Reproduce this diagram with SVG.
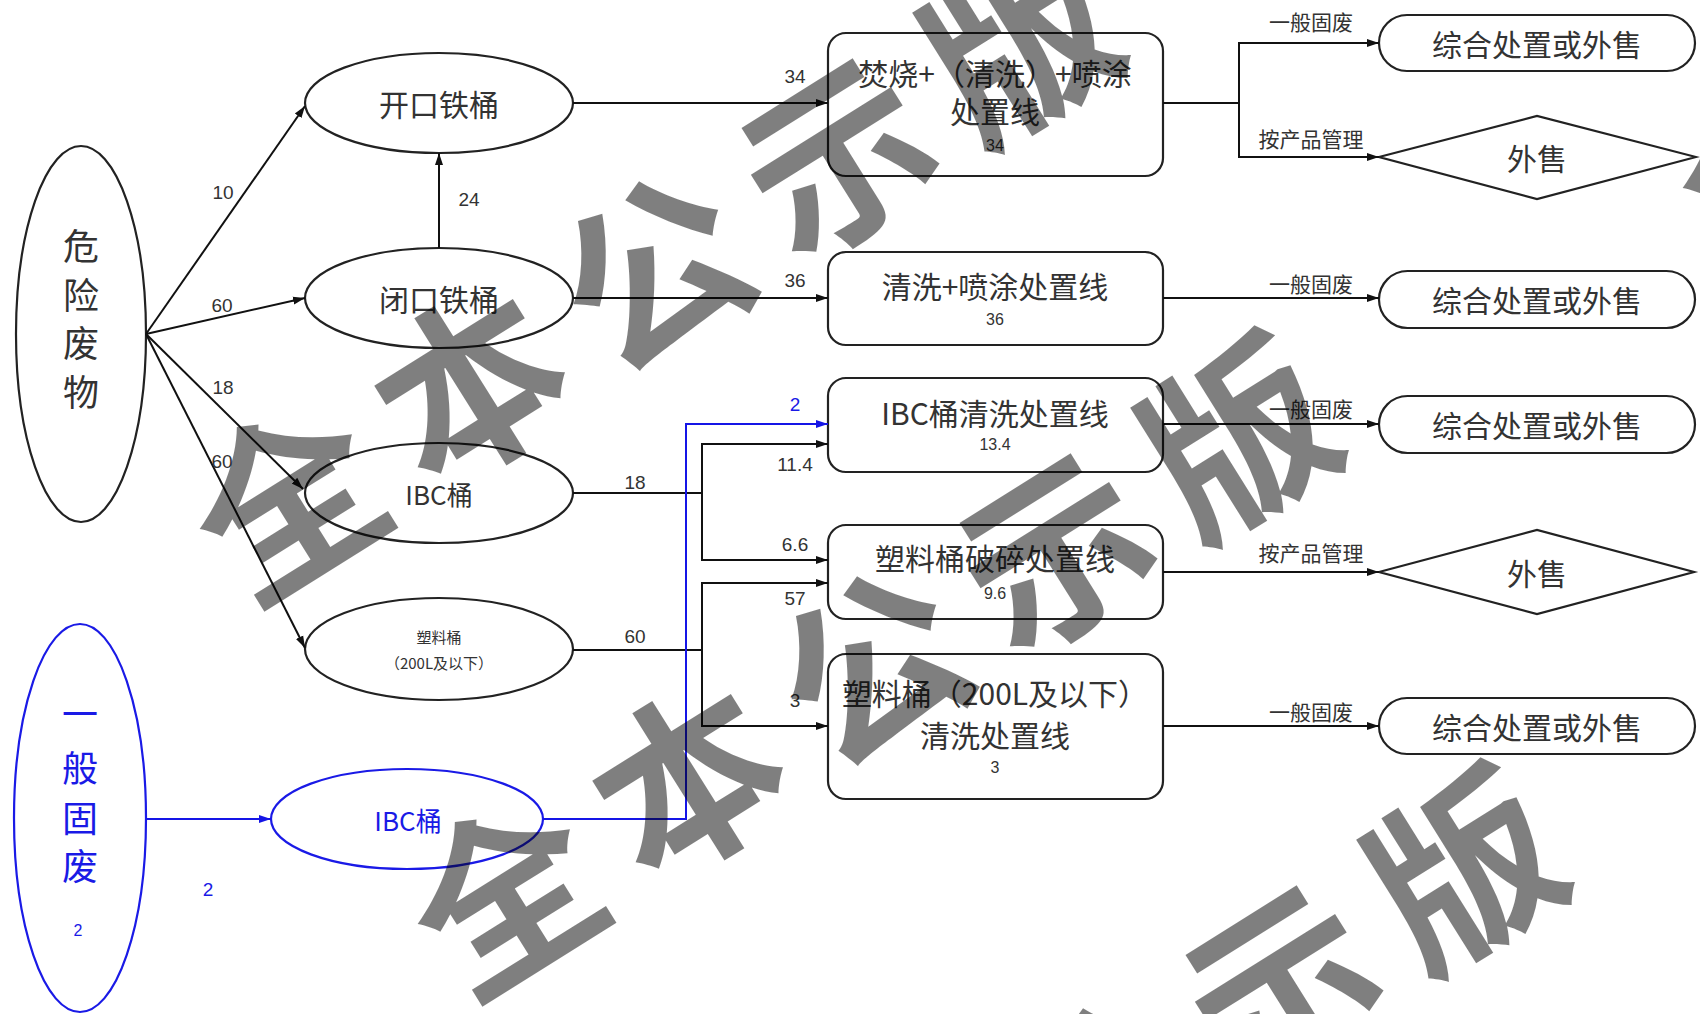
<svg xmlns="http://www.w3.org/2000/svg" width="1700" height="1014" viewBox="0 0 1700 1014">
<defs>
<marker id="arr" viewBox="0 0 12 10" refX="12" refY="5" markerWidth="12" markerHeight="10" markerUnits="userSpaceOnUse" orient="auto"><path d="M0,1 L12,5 L0,9 z" fill="#111"/></marker>
<marker id="arrb" viewBox="0 0 12 10" refX="12" refY="5" markerWidth="12" markerHeight="10" markerUnits="userSpaceOnUse" orient="auto"><path d="M0,1 L12,5 L0,9 z" fill="#1515e6"/></marker>
<style>
.shape{fill:none;stroke:#222;stroke-width:2.2}
.bshape{fill:none;stroke:#1a1ae6;stroke-width:2.2}
.cn{fill:none;stroke:#111;stroke-width:2;marker-end:url(#arr)}
.ln{fill:none;stroke:#111;stroke-width:2}
.bcn{fill:none;stroke:#1515e6;stroke-width:2;marker-end:url(#arrb)}
.t{font-family:"Noto Sans CJK SC","Liberation Sans",sans-serif;fill:#333;text-anchor:middle;dominant-baseline:central}
.big{font-size:30px}
.num{font-family:"Liberation Sans","Noto Sans CJK SC",sans-serif;font-size:19px;fill:#333;text-anchor:middle;dominant-baseline:central}
.small{font-family:"Liberation Sans","Noto Sans CJK SC",sans-serif;font-size:16px;fill:#333;text-anchor:middle;dominant-baseline:central}
.lab{font-family:"Noto Sans CJK SC",sans-serif;font-size:21px;fill:#333;text-anchor:middle;dominant-baseline:central}
.blue{fill:#1a1ae6}
.wm{font-family:"Noto Sans CJK SC",sans-serif;font-size:185px;font-weight:700;fill:#000;fill-opacity:0.5;text-anchor:start;dominant-baseline:central;letter-spacing:31px}
</style>
</defs>
<rect width="1700" height="1014" fill="#ffffff"/>

<g id="n-hazardous">
<ellipse class="shape" cx="81" cy="334" rx="65" ry="188"/>
<text class="t" x="81" y="244" font-size="36">危</text>
<text class="t" x="81" y="293" font-size="36">险</text>
<text class="t" x="81" y="341" font-size="36">废</text>
<text class="t" x="81" y="390" font-size="36">物</text>
</g>
<g id="n-general">
<ellipse class="bshape" cx="80" cy="818" rx="66" ry="194"/>
<text class="t blue" x="80" y="712" font-size="36">一</text>
<text class="t blue" x="80" y="766" font-size="36">般</text>
<text class="t blue" x="80" y="816" font-size="36">固</text>
<text class="t blue" x="80" y="864" font-size="36">废</text>
<text class="small blue" x="78" y="930">2</text>
</g>
<g id="n-open">
<ellipse class="shape" cx="439" cy="103" rx="134" ry="50"/>
<text class="t big" x="439" y="103">开口铁桶</text>
</g>
<g id="n-closed">
<ellipse class="shape" cx="439" cy="298" rx="134" ry="50"/>
<text class="t big" x="439" y="298">闭口铁桶</text>
</g>
<g id="n-ibc">
<ellipse class="shape" cx="439" cy="493" rx="134" ry="50"/>
<text class="t" x="439" y="493" font-size="26">IBC桶</text>
</g>
<g id="n-plastic">
<ellipse class="shape" cx="439" cy="649" rx="134" ry="51"/>
<text class="t" x="439" y="636" font-size="15">塑料桶</text>
<text class="t" x="439" y="662" font-size="15">（200L及以下）</text>
</g>
<g id="n-ibc-general">
<ellipse class="bshape" cx="407" cy="819" rx="136" ry="50"/>
<text class="t blue" x="408" y="819" font-size="26">IBC桶</text>
</g>

<g id="n-line1">
<rect class="shape" x="828" y="33" width="335" height="143" rx="18"/>
<text class="t big" x="995" y="72">焚烧+（清洗）+喷涂</text>
<text class="t big" x="995" y="110">处置线</text>
<text class="small" x="995" y="145">34</text>
</g>
<g id="n-line2">
<rect class="shape" x="828" y="252" width="335" height="93" rx="18"/>
<text class="t big" x="995" y="285">清洗+喷涂处置线</text>
<text class="small" x="995" y="319">36</text>
</g>
<g id="n-line3">
<rect class="shape" x="828" y="378" width="335" height="94" rx="18"/>
<text class="t big" x="995" y="412">IBC桶清洗处置线</text>
<text class="small" x="995" y="444">13.4</text>
</g>
<g id="n-line4">
<rect class="shape" x="828" y="525" width="335" height="94" rx="18"/>
<text class="t big" x="995" y="557">塑料桶破碎处置线</text>
<text class="small" x="995" y="593">9.6</text>
</g>
<g id="n-line5">
<rect class="shape" x="828" y="654" width="335" height="145" rx="18"/>
<text class="t big" x="995" y="692">塑料桶（200L及以下）</text>
<text class="t big" x="995" y="734">清洗处置线</text>
<text class="small" x="995" y="767">3</text>
</g>

<g id="n-out1">
<rect class="shape" x="1379" y="15" width="316" height="56" rx="28"/>
<text class="t big" x="1537" y="43">综合处置或外售</text>
</g>
<g id="n-sell1">
<polygon class="shape" points="1379,157 1537,116 1696,157 1537,199"/>
<text class="t big" x="1537" y="157">外售</text>
</g>
<g id="n-out2">
<rect class="shape" x="1379" y="271" width="316" height="57" rx="28.5"/>
<text class="t big" x="1537" y="299">综合处置或外售</text>
</g>
<g id="n-out3">
<rect class="shape" x="1379" y="396" width="316" height="57" rx="28.5"/>
<text class="t big" x="1537" y="424">综合处置或外售</text>
</g>
<g id="n-sell2">
<polygon class="shape" points="1379,572 1537,530 1694,572 1537,614"/>
<text class="t big" x="1537" y="572">外售</text>
</g>
<g id="n-out4">
<rect class="shape" x="1379" y="698" width="316" height="56" rx="28"/>
<text class="t big" x="1537" y="726">综合处置或外售</text>
</g>

<g id="connectors">
<path class="cn" d="M146,334 L305,106"/>
<path class="cn" d="M146,334 L305,298"/>
<path class="cn" d="M146,334 L303,489"/>
<path class="cn" d="M146,334 L305,648"/>
<path class="cn" d="M439,248 L439,153"/>
<path class="cn" d="M573,103 H828"/>
<path class="cn" d="M573,298 H828"/>
<path class="cn" d="M573,493 H702 V444 H828"/>
<path class="cn" d="M702,493 V560 H828"/>
<path class="cn" d="M573,650 H702 V583 H828"/>
<path class="cn" d="M702,650 V726 H828"/>
<path class="bcn" d="M146,819 H271"/>
<path class="bcn" d="M543,819 H686 V424 H828"/>
<path class="ln" d="M1163,103 H1239"/>
<path class="cn" d="M1239,103 V43 H1379"/>
<path class="cn" d="M1239,103 V157 H1379"/>
<path class="cn" d="M1163,298 H1379"/>
<path class="cn" d="M1163,424 H1379"/>
<path class="cn" d="M1163,572 H1379"/>
<path class="cn" d="M1163,726 H1379"/>
</g>

<g id="labels">
<text class="num" x="223" y="192">10</text>
<text class="num" x="222" y="305">60</text>
<text class="num" x="223" y="387">18</text>
<text class="num" x="222" y="461">60</text>
<text class="num" x="469" y="199">24</text>
<text class="num" x="795" y="76">34</text>
<text class="num" x="795" y="280">36</text>
<text class="num" x="635" y="482">18</text>
<text class="num" x="795" y="464">11.4</text>
<text class="num" x="795" y="544">6.6</text>
<text class="num" x="635" y="636">60</text>
<text class="num" x="795" y="598">57</text>
<text class="num" x="795" y="700">3</text>
<text class="num blue" x="208" y="889">2</text>
<text class="num blue" x="795" y="404">2</text>
<text class="lab" x="1311" y="21">一般固废</text>
<text class="lab" x="1311" y="138">按产品管理</text>
<text class="lab" x="1311" y="283">一般固废</text>
<text class="lab" x="1311" y="408">一般固废</text>
<text class="lab" x="1311" y="552">按产品管理</text>
<text class="lab" x="1311" y="711">一般固废</text>
</g>

<g id="watermark">
<text class="wm" x="123.5" y="262" transform="rotate(-32 648 262)">全本公示版</text>
<text class="wm" x="341.5" y="657" transform="rotate(-32 866 657)">全本公示版</text>
<text class="wm" x="567.5" y="1089" transform="rotate(-32 1092 1089)">全本公示版</text>
<text class="wm" x="1606.5" y="-79" transform="rotate(-32 2131 -79)">全本公示版</text>
</g>
</svg>
